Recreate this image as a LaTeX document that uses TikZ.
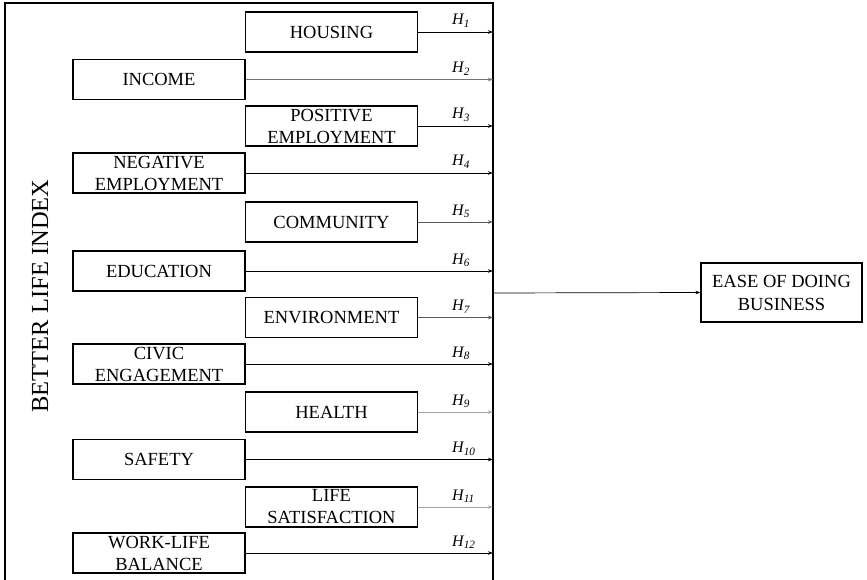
\documentclass[tikz,border=0pt]{standalone}
\usepackage{fontspec}
\setmainfont{Liberation Serif}
\usetikzlibrary{arrows.meta}
\tikzset{
  box/.style={draw, line width=1.2pt, minimum width=172pt, minimum height=40pt, inner sep=0pt, align=center, font=\fontsize{18.5}{22}\selectfont},
  link/.style={line width=0.7pt, -{Stealth[length=5pt,width=3.5pt]}},
  hlab/.style={anchor=base west, inner sep=0pt, font=\fontsize{16}{18}\selectfont\itshape},
}
\begin{document}
\begin{tikzpicture}[x=1pt,y=-1pt]
\useasboundingbox (0,0) rectangle (867,580);
\draw[line width=1.3pt] (5,592) -- (5,3) -- (493,3) -- (493,592);
\coordinate (R) at (493,0);
\node[rotate=90, anchor=base, font=\fontsize{24.5}{28}\selectfont] (bli) at (48,296) {BETTER LIFE INDEX};
% boxes
\node[box] (b1) at (331.5,32) {HOUSING};
\node[box] (b2) at (159,79.5) {INCOME};
\node[box] (b3) at (331.5,126) {POSITIVE\\EMPLOYMENT};
\node[box] (b4) at (159,173) {NEGATIVE\\EMPLOYMENT};
\node[box] (b5) at (331.5,222) {COMMUNITY};
\node[box] (b6) at (159,271) {EDUCATION};
\node[box] (b7) at (331.5,317.5) {ENVIRONMENT};
\node[box] (b8) at (159,364) {CIVIC\\ENGAGEMENT};
\node[box] (b9) at (331.5,412) {HEALTH};
\node[box] (b10) at (159,459.5) {SAFETY};
\node[box] (b11) at (331.5,507) {LIFE\\SATISFACTION};
\node[box] (b12) at (159,553) {WORK-LIFE\\BALANCE};
% links
\draw[link] (b1.east) -- (b1.east -| R);
\draw[link, black!55] (b2.east) -- (b2.east -| R);
\draw[link] (b3.east) -- (b3.east -| R);
\draw[link] (b4.east) -- (b4.east -| R);
\draw[link, black!65] (b5.east) -- (b5.east -| R);
\draw[link] (b6.east) -- (b6.east -| R);
\draw[link, black!65] (b7.east) -- (b7.east -| R);
\draw[link] (b8.east) -- (b8.east -| R);
\draw[link, black!35] (b9.east) -- (b9.east -| R);
\draw[link] (b10.east) -- (b10.east -| R);
\draw[link, black!35] (b11.east) -- (b11.east -| R);
\draw[link] (b12.east) -- (b12.east -| R);
% labels
\foreach \i in {1,...,12} {
  \node[hlab] (h\i) at ([yshift=7pt]b\i.east -| 452,0) {H\textsubscript{\i}};
}
% outcome
\node[box, minimum width=161pt, minimum height=59pt, font=\fontsize{18.5}{23}\selectfont] (ease) at (781.5,292.5) {EASE OF DOING\\BUSINESS};
\coordinate (out) at (493,293);
\draw[link] (out) -- (ease.west);
\end{tikzpicture}
\end{document}
